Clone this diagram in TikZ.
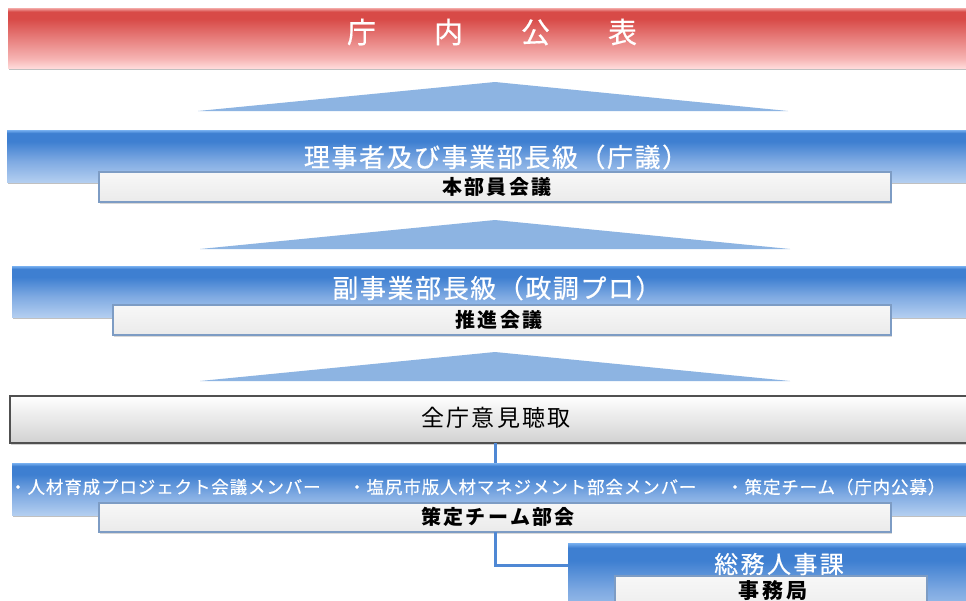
\documentclass[tikz,border=0pt]{standalone}
\usepackage{fontspec}
\newfontfamily\jp{Noto Sans CJK JP}
\usetikzlibrary{shadows}
\definecolor{triblue}{HTML}{8DB4E2}
\definecolor{connblue}{HTML}{4F88D4}
\definecolor{boxedge}{HTML}{7D9CC4}
\definecolor{grayedge}{HTML}{505050}
\definecolor{bbB}{HTML}{B3CEF0}
\definecolor{bbM}{HTML}{7FAAE2}
\definecolor{bbD}{HTML}{3E7FD1}
\definecolor{bbL}{HTML}{78B0F0}
\definecolor{rbB}{HTML}{FFDADA}
\definecolor{rbP}{HTML}{F6B3B2}
\definecolor{rbM}{HTML}{E57775}
\definecolor{rbD}{HTML}{D84A47}
\definecolor{rbL}{HTML}{F3A9A7}
\pgfdeclareverticalshading{bluebar}{100bp}{color(0bp)=(bbB); color(25bp)=(bbB); color(45bp)=(bbM); color(64bp)=(bbD); color(72bp)=(bbD); color(75bp)=(bbL); color(100bp)=(bbL)}
\pgfdeclareverticalshading{redbar}{100bp}{color(0bp)=(rbB); color(25bp)=(rbB); color(33bp)=(rbP); color(52bp)=(rbM); color(66bp)=(rbD); color(72bp)=(rbD); color(75bp)=(rbL); color(100bp)=(rbL)}
\tikzset{
  barbase/.style={anchor=north west, inner sep=0pt, outer sep=0pt, draw=none,
    drop shadow={shadow xshift=1pt, shadow yshift=-2pt, opacity=.35, fill=black!70}},
  bluebarbox/.style={barbase, shading=bluebar},
  redbarbox/.style={barbase, shading=redbar},
  whitebox/.style={anchor=north west, inner sep=0pt, outer sep=0pt, draw=boxedge, line width=1.2pt,
    top color=white!97!black, bottom color=white!92!black,
    drop shadow={shadow xshift=1pt, shadow yshift=-1.5pt, opacity=.25, fill=black!60}},
  graybox/.style={anchor=north west, inner sep=0pt, outer sep=0pt, draw=grayedge, line width=1.5pt,
    top color=white, bottom color=white!82!black,
    drop shadow={shadow xshift=1pt, shadow yshift=-2pt, opacity=.3, fill=black!60}},
  tri/.style={fill=triblue},
  conn/.style={draw=connblue, line width=3pt},
  wtext/.style={text=white, inner sep=0pt},
  btext/.style={text=black, inner sep=0pt},
  bigw/.style={wtext, font=\jp\fontsize{26pt}{29pt}\selectfont\addfontfeature{LetterSpace=6,FakeBold=0.6}},
  boxt/.style={btext, font=\jp\bfseries\fontsize{20pt}{23pt}\selectfont\addfontfeature{LetterSpace=12}},
  smallw/.style={wtext, anchor=west, font=\jp\fontsize{17.5pt}{20pt}\selectfont\addfontfeature{LetterSpace=5,FakeBold=0.4}}
}
\begin{document}
\begin{tikzpicture}[x=1pt,y=-1pt]
\clip (0,0) rectangle (966,600);
\fill[white] (0,0) rectangle (966,600);

% bars and boxes
\node[redbarbox, minimum width=1000pt, minimum height=60pt] (pub) at (8,8) {};
\fill[tri] (495,82) -- (788,111) -- (198,111) -- cycle;

\node[bluebarbox, minimum width=1000pt, minimum height=52pt] (exec) at (7,130) {};
\node[whitebox, minimum width=792pt, minimum height=30pt] (hq) at (99,172) {};
\fill[tri] (495,220) -- (790,249) -- (200,249) -- cycle;

\node[bluebarbox, minimum width=1000pt, minimum height=51pt] (vice) at (12,266) {};
\node[whitebox, minimum width=778pt, minimum height=30pt] (promo) at (113,305) {};
\fill[tri] (495,352) -- (790,381) -- (200,381) -- cycle;

\node[graybox, minimum width=1000pt, minimum height=47pt] (zen) at (10,396) {};

\node[bluebarbox, minimum width=1000pt, minimum height=52pt] (mem) at (12,463) {};
\node[whitebox, minimum width=792pt, minimum height=29pt] (team) at (99,503) {};

\node[bluebarbox, minimum width=500pt, minimum height=80pt] (soumu) at (568,543) {};
\node[whitebox, minimum width=312pt, minimum height=40pt] (jim) at (615,576) {};

% connectors
\coordinate (cx) at (495,0);
\coordinate (elbow) at (495,565);
\draw[conn] (zen.south -| cx) -- (mem.north -| cx);
\draw[conn] (team.south -| cx) -- (elbow) -- (elbow -| soumu.west);

% texts
\node[wtext, font=\jp\fontsize{29pt}{32pt}\selectfont\addfontfeature{FakeBold=0.4}] (tpub) at (492,32)
  {庁\hspace{58pt}内\hspace{58pt}公\hspace{58pt}表};
\node[bigw] (texec) at (496,157) {理事者及び事業部長級（庁議）};
\node[boxt] (thq) at (497,187) {本部員会議};
\node[bigw] (tvice) at (497,288) {副事業部長級（政調プロ）};
\node[boxt] (tpromo) at (499,320) {推進会議};
\node[btext, font=\jp\fontsize{23pt}{26pt}\selectfont\addfontfeature{LetterSpace=10}] (tzen) at (496,418) {全庁意見聴取};
\node[smallw] (tm1) at (9,487) {・人材育成プロジェクト会議メンバー};
\node[smallw] (tm2) at (348,487) {・塩尻市版人材マネジメント部会メンバー};
\node[smallw] (tm3) at (726,487) {・策定チーム（庁内公募）};
\node[boxt] (tteam) at (498,517) {策定チーム部会};
\node[wtext, font=\jp\fontsize{24pt}{27pt}\selectfont\addfontfeature{LetterSpace=10,FakeBold=0.5}] (tsoumu) at (779,564) {総務人事課};
\node[boxt, font=\jp\bfseries\fontsize{21pt}{24pt}\selectfont\addfontfeature{LetterSpace=12}] (tjim) at (773,591) {事務局};
\end{tikzpicture}
\end{document}
